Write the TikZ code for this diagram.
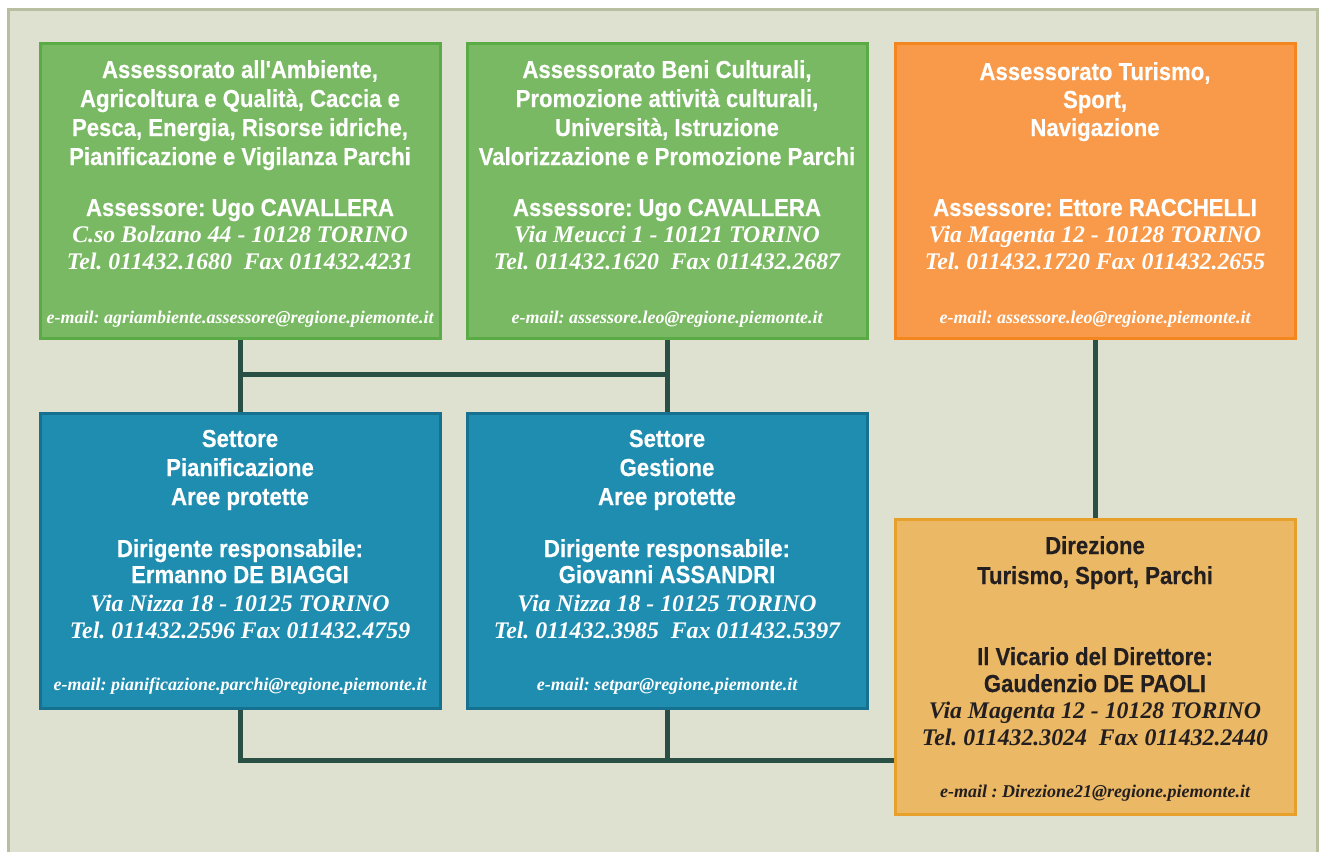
\documentclass[tikz,border=0pt]{standalone}
\usepackage{fontspec}
\newfontfamily\hdfont[FakeStretch=0.9,FakeBold=0.4]{Liberation Sans}
\newfontfamily\srfont{Liberation Serif}
\frenchspacing
\definecolor{bgfill}{HTML}{DEE0D0}
\definecolor{bgline}{HTML}{B8BEA0}
\definecolor{grfill}{HTML}{7AB963}
\definecolor{grline}{HTML}{5AAB45}
\definecolor{orfill}{HTML}{F89A4A}
\definecolor{orline}{HTML}{F4861F}
\definecolor{blfill}{HTML}{1F8DB0}
\definecolor{blline}{HTML}{16708F}
\definecolor{gdfill}{HTML}{EBB865}
\definecolor{gdline}{HTML}{E8A02C}
\definecolor{conncol}{HTML}{2A5045}
\definecolor{darktext}{HTML}{231F20}
\tikzset{
  box/.style={draw, line width=3pt, minimum width=400pt, minimum height=295pt, inner sep=0pt},
  greenbox/.style={box, fill=grfill, draw=grline},
  orangebox/.style={box, fill=orfill, draw=orline},
  bluebox/.style={box, fill=blfill, draw=blline},
  goldbox/.style={box, fill=gdfill, draw=gdline},
  hd/.style={anchor=base, inner sep=0pt, font=\hdfont\bfseries\fontsize{24.6}{28}\selectfont\frenchspacing},
  it/.style={anchor=base, inner sep=0pt, font=\srfont\bfseries\itshape\fontsize{23.8}{27}\selectfont\frenchspacing},
  em/.style={anchor=base, inner sep=0pt, font=\srfont\bfseries\itshape\fontsize{18}{20}\selectfont\frenchspacing},
  conn/.style={draw=conncol, line width=5pt},
}
\begin{document}
\begin{tikzpicture}[x=1pt, y=-1pt]
\useasboundingbox (0,0) rectangle (1329,851);
\fill[white] (0,0) rectangle (1329,851);
\draw[draw=bgline, fill=bgfill, line width=3pt] (8.5,9.5) rectangle (1317.5,870);

\coordinate (j1) at (240,374);
\coordinate (j2) at (667,374);
\coordinate (k1) at (240,760);
\coordinate (k2) at (667,760);

% boxes
\node[greenbox] (g1) at (240,191) {};
\node[greenbox] (g2) at (667,191) {};
\node[orangebox] (or) at (1095,191) {};
\node[bluebox] (b1) at (240,560.5) {};
\node[bluebox] (b2) at (667,560.5) {};
\node[goldbox] (gd) at (1095,667) {};

% connectors
\draw[conn] (g1.south) -- (b1.north);
\draw[conn] (g2.south) -- (b2.north);
\draw[conn] (j1) -- (j2);
\draw[conn] (or.south) -- (gd.north);
\draw[conn] (b1.south) -- (k1) -- (gd.west |- k1);
\draw[conn] (b2.south) -- (k2);

\begin{scope}[text=white]
% green 1
\node[hd] (g1a) at (240,78) {Assessorato all'Ambiente,};
\node[hd] (g1b) at (240,107) {Agricoltura e Qualità, Caccia e};
\node[hd] (g1c) at (240,136) {Pesca, Energia, Risorse idriche,};
\node[hd] (g1d) at (240,165) {Pianificazione e Vigilanza Parchi};
\node[hd] (g1e) at (240,216) {Assessore: Ugo CAVALLERA};
\node[it] (g1f) at (240,242) {C.so Bolzano 44 - 10128 TORINO};
\node[it] (g1g) at (240,269) {Tel. 011432.1680\ \ Fax 011432.4231};
\node[em] (g1h) at (240,323) {e-mail: agriambiente.assessore@regione.piemonte.it};

% green 2
\node[hd] (g2a) at (667,78) {Assessorato Beni Culturali,};
\node[hd] (g2b) at (667,107) {Promozione attività culturali,};
\node[hd] (g2c) at (667,136) {Università, Istruzione};
\node[hd] (g2d) at (667,165) {Valorizzazione e Promozione Parchi};
\node[hd] (g2e) at (667,216) {Assessore: Ugo CAVALLERA};
\node[it] (g2f) at (667,242) {Via Meucci 1 - 10121 TORINO};
\node[it] (g2g) at (667,269) {Tel. 011432.1620\ \ Fax 011432.2687};
\node[em] (g2h) at (667,323) {e-mail: assessore.leo@regione.piemonte.it};

% orange
\node[hd] (ora) at (1095,80) {Assessorato Turismo,};
\node[hd] (orb) at (1095,108) {Sport,};
\node[hd] (orc) at (1095,136) {Navigazione};
\node[hd] (ore) at (1095,216) {Assessore: Ettore RACCHELLI};
\node[it] (orf) at (1095,242) {Via Magenta 12 - 10128 TORINO};
\node[it] (org) at (1095,269) {Tel. 011432.1720 Fax 011432.2655};
\node[em] (orh) at (1095,323) {e-mail: assessore.leo@regione.piemonte.it};

% blue 1
\node[hd] (b1a) at (240,447) {Settore};
\node[hd] (b1b) at (240,476) {Pianificazione};
\node[hd] (b1c) at (240,505) {Aree protette};
\node[hd] (b1d) at (240,557) {Dirigente responsabile:};
\node[hd] (b1e) at (240,583) {Ermanno DE BIAGGI};
\node[it] (b1f) at (240,611) {Via Nizza 18 - 10125 TORINO};
\node[it] (b1g) at (240,638) {Tel. 011432.2596 Fax 011432.4759};
\node[em] (b1h) at (240,690) {e-mail: pianificazione.parchi@regione.piemonte.it};

% blue 2
\node[hd] (b2a) at (667,447) {Settore};
\node[hd] (b2b) at (667,476) {Gestione};
\node[hd] (b2c) at (667,505) {Aree protette};
\node[hd] (b2d) at (667,557) {Dirigente responsabile:};
\node[hd] (b2e) at (667,583) {Giovanni ASSANDRI};
\node[it] (b2f) at (667,611) {Via Nizza 18 - 10125 TORINO};
\node[it] (b2g) at (667,638) {Tel. 011432.3985\ \ Fax 011432.5397};
\node[em] (b2h) at (667,690) {e-mail: setpar@regione.piemonte.it};
\end{scope}

% gold
\begin{scope}[text=darktext]
\node[hd] (gda) at (1095,554) {Direzione};
\node[hd] (gdb) at (1095,584) {Turismo, Sport, Parchi};
\node[hd] (gdc) at (1095,665) {Il Vicario del Direttore:};
\node[hd] (gdd) at (1095,692) {Gaudenzio DE PAOLI};
\node[it] (gde) at (1095,718) {Via Magenta 12 - 10128 TORINO};
\node[it] (gdf) at (1095,745) {Tel. 011432.3024\ \ Fax 011432.2440};
\node[em] (gdg) at (1095,797) {e-mail : Direzione21@regione.piemonte.it};
\end{scope}
\end{tikzpicture}
\end{document}
